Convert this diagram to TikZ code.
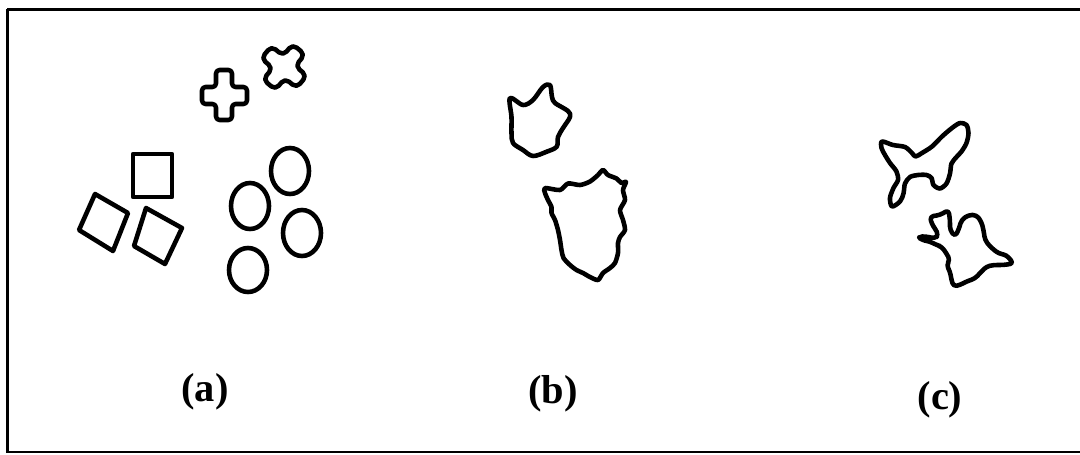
\documentclass[tikz,border=0pt]{standalone}
\usepackage{fontspec}
\setmainfont{Liberation Serif}
\begin{document}
\begin{tikzpicture}[x=0.02cm,y=-0.02cm,
  outline/.style={line width=2.6pt,line join=round,line cap=round},
  blob/.style={outline,smooth cycle,tension=0.55},
  caption/.style={font=\bfseries\fontsize{23}{25}\selectfont,inner sep=0pt}]
\useasboundingbox (0,0) rectangle (1080,454);
% frame
\draw[line width=1.6pt] (7,9.5) -- (1085,9.5);
\draw[line width=1.6pt] (7.5,9) -- (7.5,452.5);
\draw[line width=0.9pt] (7,452) -- (1085,452);

% ---- panel (a): regular shapes ----
% plus sign
\draw[outline,rounded corners=2] (216,70) -- (232,70) -- (232,87) -- (247,87) -- (247,104)
  -- (232,104) -- (232,120) -- (216,120) -- (216,104) -- (202,104) -- (202,87) -- (216,87) -- cycle;
% rotated cross
\begin{scope}[shift={(284,67)},rotate=-40]
\draw[outline,rounded corners=3] (-8,-23) -- (8,-23) -- (8,-8) -- (23,-8) -- (23,8) -- (8,8)
  -- (8,23) -- (-8,23) -- (-8,8) -- (-23,8) -- (-23,-8) -- (-8,-8) -- cycle;
\end{scope}
% squares
\draw[outline] (133,154) -- (172,154) -- (172,197) -- (133,197) -- cycle;
\draw[outline] (95,194) -- (128,213) -- (113,251) -- (79,230) -- cycle;
\draw[outline] (146,208) -- (182,228) -- (165,264) -- (134,246) -- cycle;
% circles
\draw[outline] (290,171) ellipse [x radius=19, y radius=23];
\draw[outline] (250,206) ellipse [x radius=19, y radius=23];
\draw[outline] (302,233) ellipse [x radius=19, y radius=23];
\draw[outline] (248,270) ellipse [x radius=19, y radius=22];

% ---- panel (b): irregular blobs ----
\draw[blob] plot coordinates {(510,98) (523,105) (533,100) (543,87) (550,85) (552,97)
  (555,103) (568,111) (570,117) (563,128) (558,137) (556.7,146.7) (546.7,151.7) (533,156)
  (523,150) (513,143) (511.5,133) (511.5,117)};
\draw[blob,tension=0.45] plot coordinates {(545,188) (560,190) (568,183.5) (580,185) (590,181.5) (598,175)
  (603,170) (608,175) (616.5,178.5) (621.5,183) (626,182) (623,190) (625,200) (620,210)
  (623,220) (625,230) (620,237) (618,243) (618,253) (615,263) (610,268) (603,273) (598,280)
  (590,277) (583,273) (576.5,270) (570,265) (563.5,258) (561.5,250) (560,240) (558,230)
  (555,220) (551.5,213) (551.5,207) (548,200) (545,193)};

% ---- panel (c): irregular shapes with deep notches ----
\draw[blob,tension=0.5] plot coordinates {(882,141.5) (893,145) (905,147) (912,153) (915.5,156.5)
  (922,153) (932,146.5) (942,136.5) (952,128) (960,123) (966.5,125) (968.5,133) (966.5,143)
  (961.5,151.5) (956.5,157) (951.5,163.5) (950,173.5) (946.5,183.5) (940,188.5) (933.5,185)
  (931.5,178) (926.5,175) (918,175) (910,177) (905,183.5) (903.5,193.5) (900,201.5) (892,206.5)
  (890,198) (893.5,188) (898,180) (896.5,171.5) (890,163) (885,155) (881.5,148)};
\draw[outline,rounded corners=2] (930,216.5) -- (940,215) -- (948.5,210) -- (950,220) -- (950,230)
  -- (955,236.5) -- (958.5,230) -- (961.5,220) -- (968.5,215) -- (976.5,215) -- (981.5,222)
  -- (983.5,230) -- (985,240) -- (990,246.5) -- (998.5,253.5) -- (1006.5,255) -- (1013.5,263.5)
  -- (1003.5,265) -- (993.5,265) -- (986.5,266.5) -- (981.5,271.5) -- (975,278.5) -- (966.5,281.5)
  -- (960,285) -- (953.5,286.5) -- (951.5,280) -- (950,271.5) -- (946.5,265) -- (950,260)
  -- (946.5,253.5) -- (941.5,246.5) -- (936.5,245) -- (930,241.5) -- (921.5,240) -- (918.5,236.5)
  -- (926.5,236.5) -- (935,238.5) -- (938.5,235) -- (935,228.5) -- (931.5,223.5) -- cycle;

% captions
\node[caption] (capa) at (205,392) {(a)};
\node[caption] (capb) at (553,394) {(b)};
\node[caption] (capc) at (940,400) {(c)};
\end{tikzpicture}
\end{document}
